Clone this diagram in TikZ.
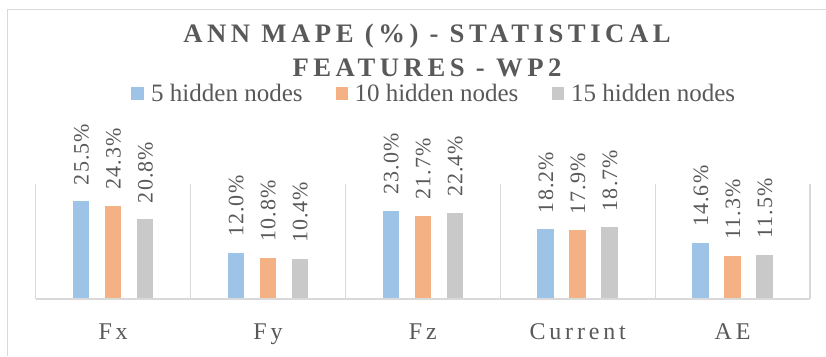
\documentclass[tikz,border=0pt]{standalone}
\usepackage{fontspec}
\setmainfont{Liberation Serif}
\newfontfamily\spacedfont[LetterSpace=16]{Liberation Serif}
\newfontfamily\titlefont[LetterSpace=17]{Liberation Serif Bold}
\newfontfamily\valfont[LetterSpace=5]{Liberation Serif}
\definecolor{txt}{HTML}{595959}
\definecolor{gridc}{HTML}{D9D9D9}
\definecolor{bblue}{HTML}{9DC3E6}
\definecolor{borange}{HTML}{F4B183}
\definecolor{bgray}{HTML}{C9C9C9}
\begin{document}
\begin{tikzpicture}[x=1pt,y=-1pt,
  titletext/.style={text=txt, inner sep=0pt, anchor=base, font={\titlefont\fontsize{26.7}{30}\selectfont}},
  legtext/.style={text=txt, inner sep=0pt, anchor=base west, font={\fontsize{25}{29}\selectfont}},
  legsq/.style={minimum size=12.6pt, inner sep=0pt, draw=none},
  cattext/.style={text=txt, inner sep=0pt, anchor=base, font={\spacedfont\fontsize{24}{28}\selectfont}},
  valtext/.style={text=txt, inner sep=0pt, anchor=base west, rotate=90, font={\valfont\fontsize{22}{26}\selectfont}},
  gridline/.style={draw=gridc, line width=1.3pt},
  frameline/.style={draw=gridc, line width=1.2pt},
]
\useasboundingbox (0,0) rectangle (826,356);
\fill[white] (0,0) rectangle (826,356);
\draw[frameline] (7.3,356) -- (7.3,9.3) -- (826,9.3);

% title
\node[titletext] (t1) at (427,42.7) {ANN MAPE (\%) - STATISTICAL};
\node[titletext] (t2) at (427,76) {FEATURES - WP2};

% legend
\node[legsq, fill=bblue] (sq1) at (137.5,93.6) {};
\node[legtext] (l1) at (151,101.7) {5 hidden nodes};
\node[legsq, fill=borange] (sq2) at (342,93.6) {};
\node[legtext] (l2) at (354.3,101.7) {10 hidden nodes};
\node[legsq, fill=bgray] (sq3) at (557.9,93.6) {};
\node[legtext] (l3) at (571,101.7) {15 hidden nodes};

% grid separators
\foreach \k in {0,...,5}{
  \draw[gridline] ({35.7+154.86*\k},184) -- ({35.7+154.86*\k},299);
}

% bars and labels
\foreach \i/\lab/\a/\b/\c in {0/Fx/25.5/24.3/20.8, 1/Fy/12.0/10.8/10.4, 2/Fz/23.0/21.7/22.4, 3/Current/18.2/17.9/18.7, 4/AE/14.6/11.3/11.5}{
  \pgfmathsetmacro\cx{35.7+154.86*(\i+0.5)}
  \foreach \j/\col/\v in {-1/bblue/\a, 0/borange/\b, 1/bgray/\c}{
    \fill[\col] ({\cx+32*\j-8.25},299) rectangle ({\cx+32*\j+8.25},{299-3.8333*\v});
    \node[valtext] (v\i\j) at ({\cx+32*\j+7.5},{299-3.8333*\v-16}) {\v\%};
  }
  \node[cattext] (c\i) at (\cx,339.3) {\lab};
}

% axis
\draw[gridline] (35.7,299) -- (810,299);
\end{tikzpicture}
\end{document}
